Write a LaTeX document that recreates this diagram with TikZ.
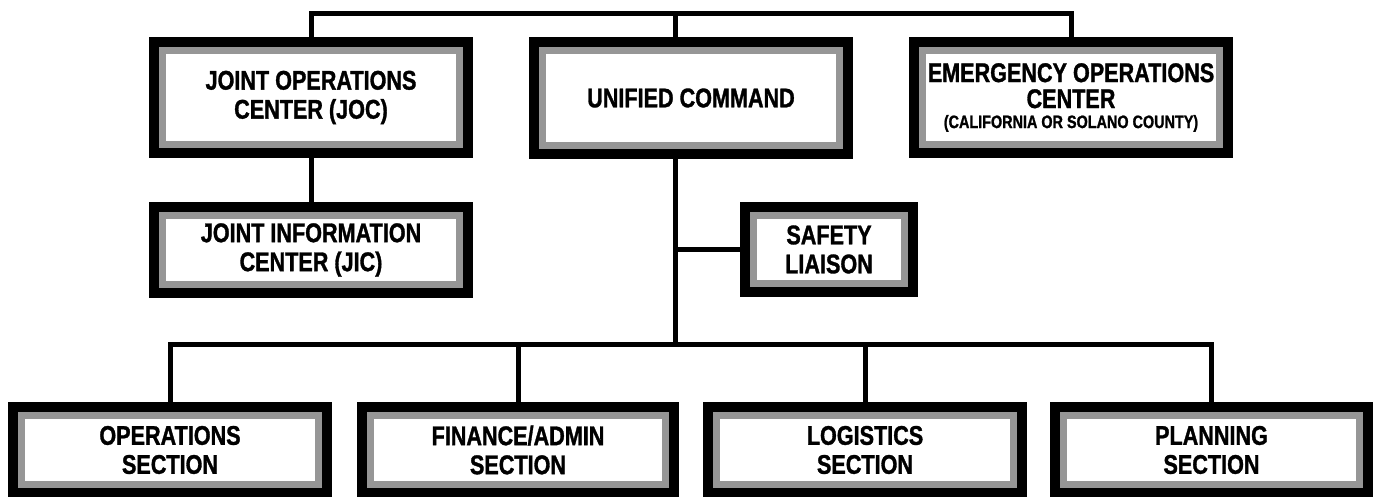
\documentclass[tikz,border=0pt]{standalone}
\usepackage{fontspec}
\newfontfamily\boxfont[FakeStretch=0.8,FakeBold=1.2]{Liberation Sans Bold}
\definecolor{gband}{RGB}{150,150,150}
\tikzset{
  ibox/.style={rectangle, fill=white, draw=gband, line width=7pt,
    preaction={draw=black, line width=27pt},
    outer sep=13.5pt, inner sep=0pt, align=center,
    font=\boxfont\fontsize{27}{29}\selectfont},
  conn/.style={draw=black, line width=5pt, line join=miter}
}
\begin{document}
\begin{tikzpicture}[x=1pt,y=-1pt]
\fill[white] (0,0) rectangle (1378,496);
\useasboundingbox (0,0) rectangle (1378,496);
% top row
\node[ibox, minimum width=297pt, minimum height=94pt] (joc) at (311,97.5) {JOINT OPERATIONS\\CENTER (JOC)};
\node[ibox, minimum width=297pt, minimum height=95pt] (uc) at (691,98) {UNIFIED COMMAND};
\node[ibox, minimum width=297pt, minimum height=94pt] (eoc) at (1071,97.5) {EMERGENCY OPERATIONS\\[-3pt]CENTER\\[-9pt]{\fontsize{18}{20}\selectfont (CALIFORNIA OR SOLANO COUNTY)}};
% middle row
\node[ibox, minimum width=297pt, minimum height=69pt] (jic) at (311,250) {JOINT INFORMATION\\CENTER (JIC)};
\node[ibox, minimum width=151pt, minimum height=68pt] (safety) at (829,249.5) {SAFETY\\LIAISON};
% bottom row
\node[ibox, minimum width=297pt, minimum height=69pt] (ops) at (170,450) {OPERATIONS\\SECTION};
\node[ibox, minimum width=295pt, minimum height=69pt] (fin) at (518,450) {FINANCE/ADMIN\\SECTION};
\node[ibox, minimum width=297pt, minimum height=69pt] (log) at (865,450) {LOGISTICS\\SECTION};
\node[ibox, minimum width=296pt, minimum height=69pt] (plan) at (1211.5,450) {PLANNING\\SECTION};
% connectors
\coordinate (top) at (675,13.5);
\coordinate (bus) at (675,344);
\draw[conn] (joc.north) -- (joc.north |- top) -- (eoc.north |- top) -- (eoc.north);
\draw[conn] (uc.north -| top) -- (top);
\draw[conn] (joc.south) -- (jic.north);
\draw[conn] (uc.south -| bus) -- (bus);
\draw[conn] (safety.west) -- (safety.west -| bus);
\draw[conn] (ops.north) -- (ops.north |- bus) -- (plan.north |- bus) -- (plan.north);
\draw[conn] (fin.north) -- (fin.north |- bus);
\draw[conn] (log.north) -- (log.north |- bus);
\end{tikzpicture}
\end{document}
